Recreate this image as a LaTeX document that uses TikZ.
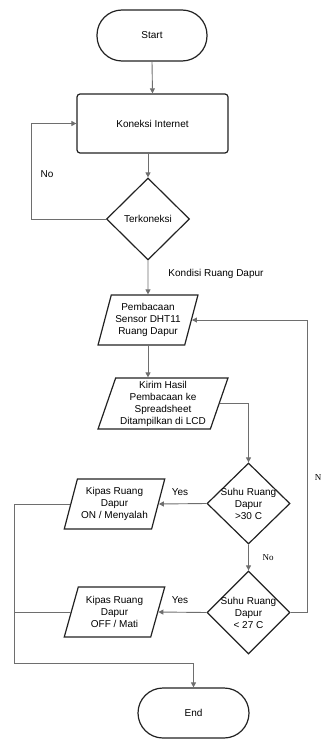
\documentclass[tikz,border=0pt]{standalone}
\usepackage{fontspec}
\setmainfont{Liberation Sans}
\newfontfamily\serifface{Liberation Serif}
\usetikzlibrary{shapes.geometric,arrows.meta}
\definecolor{edgecol}{HTML}{222222}
\definecolor{linecol}{HTML}{6E6E6E}
\tikzset{
  base/.style={draw=edgecol, line width=1.2pt, font=\fontsize{10}{12}\selectfont, align=center},
  terminal/.style={base, rectangle, rounded corners=25pt, minimum width=110pt, minimum height=51pt},
  process/.style={base, rectangle, rounded corners=3pt, minimum width=151pt, minimum height=59pt},
  decision/.style={base, diamond, inner sep=0pt, minimum width=83pt, minimum height=82pt},
  io/.style={base, trapezium, trapezium left angle=71, trapezium right angle=109,
    trapezium stretches=true, inner sep=1pt, minimum height=50pt},
  conn/.style={draw=linecol, line width=0.9pt},
  arr/.style={conn, -{Triangle[length=5pt,width=5pt]}},
  lbl/.style={font=\fontsize{10}{12}\selectfont},
  slbl/.style={font=\serifface\fontsize{9}{11}\selectfont}
}
\begin{document}
\begin{tikzpicture}[x=1pt,y=-1pt]
\useasboundingbox (0,0) rectangle (322,741);
\node[terminal] (start) at (152,35.5) {Start};
\node[process] (kon) at (152.5,123.5) {Koneksi Internet};
\node[decision, label={[lbl]center:Terkoneksi}] (d0) at (148,219) {};
\node[io, minimum width=100pt] (p1) at (148,320) {Pembacaan\\Sensor DHT11\\Ruang Dapur};
\node[io, minimum width=130pt, minimum height=51pt] (p2) at (163,403.5) {Kirim Hasil\\Pembacaan ke\\Spreadsheet\\Ditampilkan di LCD};
\node[decision, minimum height=81pt, label={[lbl,align=center]center:Suhu Ruang\\Dapur\\>30 C}] (d1) at (248.5,503.5) {};
\node[decision, minimum height=83pt, label={[lbl,align=center]center:Suhu Ruang\\Dapur\\< 27 C}] (d2) at (248.5,612.5) {};
\node[io, minimum width=101pt] (k1) at (114.5,504) {Kipas Ruang\\Dapur\\ON / Menyalah};
\node[io, minimum width=101pt] (k2) at (114.5,612) {Kipas Ruang\\Dapur\\OFF / Mati};
\node[terminal, minimum width=111pt, minimum height=50pt] (end) at (193.5,713) {End};

\coordinate (noL) at (31,0);
\coordinate (nR) at (307,0);
\coordinate (lx) at (14,663);

\draw[arr] (start.south) -- (kon.north);
\draw[arr] (d0.north |- kon.south) -- (d0.north);
\draw[arr] (d0.west) -- (d0.west -| noL) |- (kon.west);
\draw[arr] (d0.south) -- (p1.north);
\draw[arr] (p1.south) -- (p1.south |- p2.north);
\draw[arr] (p2.east) -| (d1.north);
\draw[arr] (d1.west) -- (k1.east);
\draw[arr] (d1.south) -- (d2.north);
\draw[arr] (d2.west) -- (k2.east);
\draw[arr] (d2.east) -- (d2.east -| nR) |- (p1.east);
\draw[conn] (k2.west) -- (k2.west -| lx);
\draw[arr] (k1.west) -| (lx) -| (end.north);

\node[lbl] (lno) at (47,174) {No};
\node[lbl] (lkon) at (216,274) {Kondisi Ruang Dapur};
\node[lbl] (ly1) at (180,492) {Yes};
\node[lbl] (ly2) at (180,600) {Yes};
\node[slbl] (lno2) at (268,558) {No};
\node[slbl] (ln) at (318,478) {N};
\end{tikzpicture}
\end{document}
